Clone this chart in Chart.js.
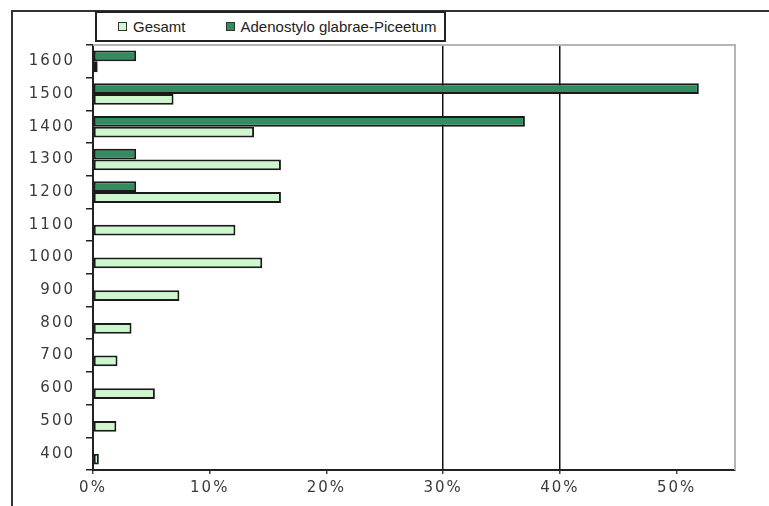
<!DOCTYPE html>
<html>
<head>
<meta charset="utf-8">
<script src="https://cdn.jsdelivr.net/npm/chart.js@4.4.1/dist/chart.umd.min.js"></script>
<style>
    body { margin: 0; background: #fff; overflow: hidden; }
    #wrap { position: relative; width: 769px; height: 506px; }
    #frame {
        position: absolute; left: 11px; top: 10px; width: 800px; height: 520px;
        border-left: 2px solid #333; border-top: 2px solid #333;
    }
    #chart { position: absolute; left: 0; top: 0; }
    #legend {
        position: absolute; left: 95px; top: 11px; width: 351px; height: 31px;
        box-sizing: border-box; border: 2px solid #222; background: #fff;
        display: flex; align-items: center; padding-left: 21px;
        font: 15px "Liberation Sans", Arial, sans-serif; color: #222;
        white-space: nowrap; overflow: hidden;
    }
    #legend .item { display: flex; align-items: center; margin-right: 40px; flex: none; }
    #legend .box { width: 7px; height: 7px; border: 1px solid #333; margin-right: 6px; }
</style>
</head>
<body>
<div id="wrap">
    <div id="frame"></div>
    <canvas id="chart" width="769" height="506"></canvas>
    <div id="legend"></div>
</div>
<script>
// altitude classes, top to bottom
const heights = ['1600', '1500', '1400', '1300', '1200', '1100', '1000', '900', '800', '700', '600', '500', '400'];

// share of plots per altitude class (%)
const gesamt = [0.4, 6.9, 13.8, 16.1, 16.1, 12.2, 14.5, 7.4, 3.3, 2.1, 5.3, 2.0, 0.5];
const adenostylo = [3.7, 51.9, 37.0, 3.7, 3.7, 0, 0, 0, 0, 0, 0, 0, 0];

const xTicks = [0, 10, 20, 30, 40, 50];
const xGridLines = [30, 40];

const tickFont = { family: '"DejaVu Sans", sans-serif', size: 15 };

// plot frame (light grey top and right edge)
const plotFrame = {
    id: 'plotFrame',
    beforeDraw(chart) {
        chart.ctx.letterSpacing = '2px';
    },
    afterDraw(chart) {
        const { ctx, chartArea } = chart;
        ctx.save();
        ctx.strokeStyle = '#b5b5b5';
        ctx.lineWidth = 2;
        ctx.beginPath();
        ctx.moveTo(chartArea.left, chartArea.top);
        ctx.lineTo(chartArea.right, chartArea.top);
        ctx.lineTo(chartArea.right, chartArea.bottom);
        ctx.stroke();
        ctx.restore();
    }
};

const chart = new Chart(document.getElementById('chart'), {
    type: 'bar',
    data: {
        labels: heights,
        datasets: [{
            label: 'Adenostylo glabrae-Piceetum',
            data: adenostylo,
            backgroundColor: '#338c5f',
            borderColor: '#1a1a1a',
            borderWidth: 2,
            borderSkipped: false
        }, {
            label: 'Gesamt',
            data: gesamt,
            backgroundColor: '#cdf7cd',
            borderColor: '#1a1a1a',
            borderWidth: 2,
            borderSkipped: false
        }]
    },
    options: {
        indexAxis: 'y',
        responsive: false,
        animation: false,
        categoryPercentage: 0.66,
        barPercentage: 1.0,
        layout: {
            padding: { top: 45, right: 34, bottom: 4, left: 0 }
        },
        plugins: {
            legend: { display: false },
            tooltip: { enabled: false }
        },
        scales: {
            x: {
                min: 0,
                max: 55,
                afterBuildTicks: function(scale) {
                    scale.ticks = xTicks.map(v => ({ value: v }));
                },
                ticks: {
                    font: tickFont,
                    color: '#3a3a3a',
                    padding: 5,
                    callback: v => v + '%'
                },
                grid: {
                    color: ctx => (ctx.tick && xGridLines.includes(ctx.tick.value)) ? '#111' : 'rgba(0,0,0,0)',
                    tickColor: '#444',
                    tickLength: 4,
                    lineWidth: 1.5
                },
                border: { color: '#222', width: 2 }
            },
            y: {
                afterFit: function(scale) {
                    scale.width = 93;
                },
                ticks: {
                    font: tickFont,
                    color: '#3a3a3a',
                    padding: 11
                },
                grid: {
                    drawOnChartArea: false,
                    color: '#222',
                    tickLength: 7,
                    lineWidth: 1.5
                },
                border: { color: '#222', width: 2 }
            }
        }
    },
    plugins: [plotFrame]
});

// html legend, Gesamt first
const legendEl = document.getElementById('legend');
chart.data.datasets.slice().reverse().forEach(ds => {
    const item = document.createElement('div');
    item.className = 'item';
    const box = document.createElement('span');
    box.className = 'box';
    box.style.background = ds.backgroundColor;
    const text = document.createElement('span');
    text.textContent = ds.label;
    item.appendChild(box);
    item.appendChild(text);
    legendEl.appendChild(item);
});
</script>
</body>
</html>
